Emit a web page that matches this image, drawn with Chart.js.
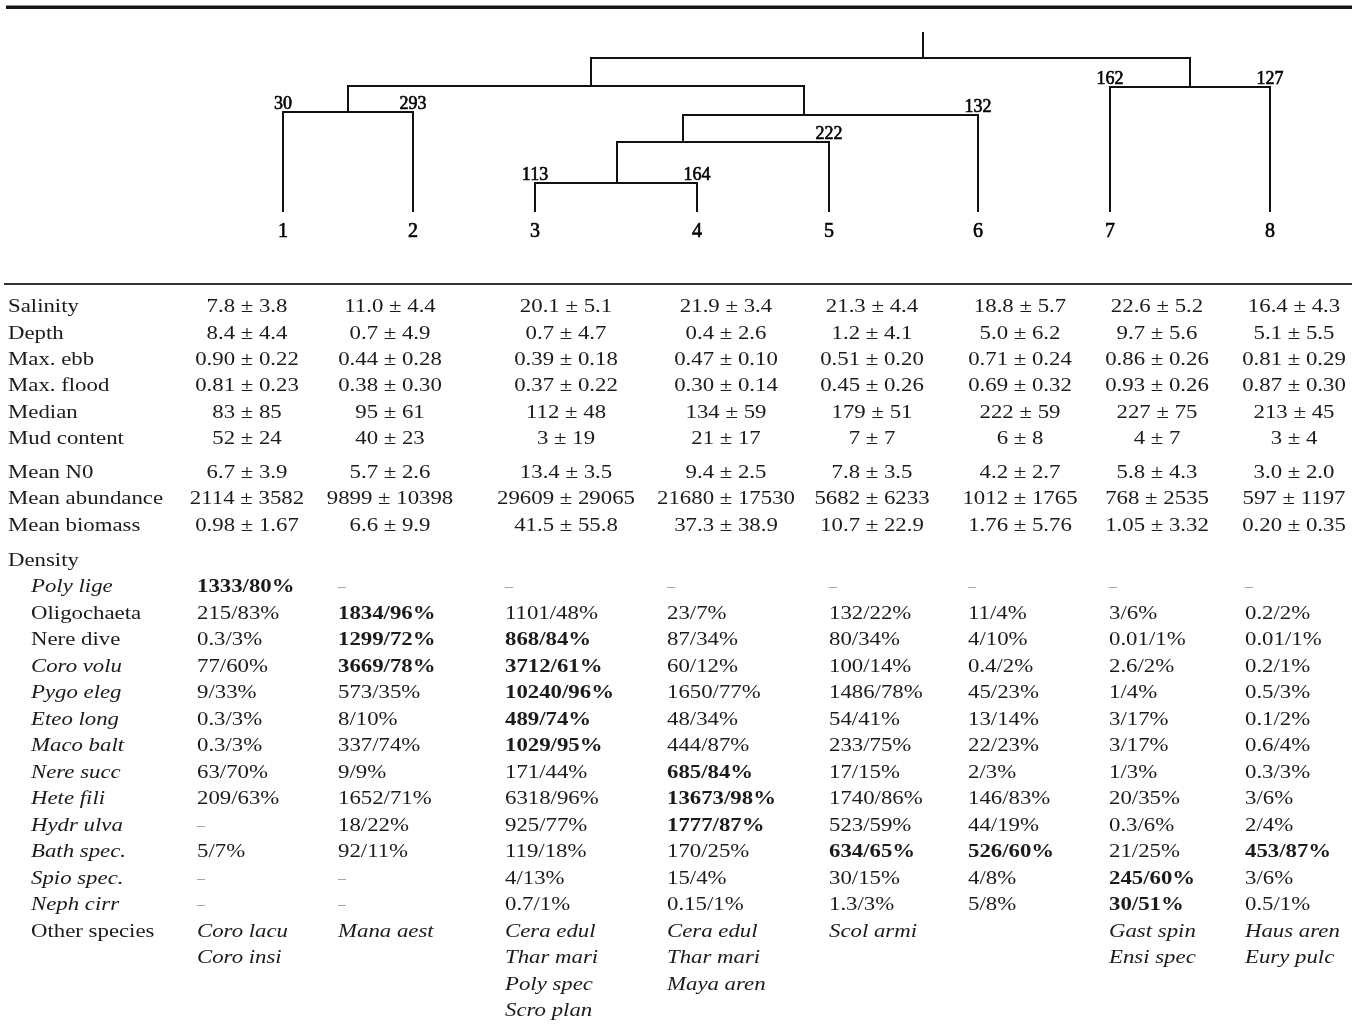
<!DOCTYPE html>
<html>
<head>
<meta charset="utf-8">
<script src="https://cdn.jsdelivr.net/npm/chart.js@4.4.1/dist/chart.umd.min.js"></script>
<style>
  html, body { margin: 0; padding: 0; background: #ffffff; }
  #wrap { position: relative; width: 1358px; height: 1024px; }
</style>
</head>
<body>
<div id="wrap"><canvas id="c"></canvas></div>
<script>
// ---- Dendrogram data ----
const leafLabels  = ['1', '2', '3', '4', '5', '6', '7', '8'];
const clusterSize = [30, 293, 113, 164, 222, 132, 162, 127];
const leafPos     = [283, 413, 535, 697, 829, 978, 1110, 1270];
// merges: indices < 8 are leaves, 8 + k is merge k
const mergeChildren = [[2, 3], [8, 4], [9, 5], [0, 1], [11, 10], [6, 7], [12, 13]];
const mergeHeight   = [28, 69, 96, 99, 125, 124, 153];
const mergePos      = [617, 683, 804, 348, 591, 1190, 923];
const rootTop       = 178;

// ---- Environmental / community statistics per cluster ----
const statNames = ['Salinity', 'Depth', 'Max. ebb', 'Max. flood', 'Median', 'Mud content',
                   'Mean N0', 'Mean abundance', 'Mean biomass'];
const salinity  = ['7.8 ± 3.8', '11.0 ± 4.4', '20.1 ± 5.1', '21.9 ± 3.4', '21.3 ± 4.4', '18.8 ± 5.7', '22.6 ± 5.2', '16.4 ± 4.3'];
const depth     = ['8.4 ± 4.4', '0.7 ± 4.9', '0.7 ± 4.7', '0.4 ± 2.6', '1.2 ± 4.1', '5.0 ± 6.2', '9.7 ± 5.6', '5.1 ± 5.5'];
const maxEbb    = ['0.90 ± 0.22', '0.44 ± 0.28', '0.39 ± 0.18', '0.47 ± 0.10', '0.51 ± 0.20', '0.71 ± 0.24', '0.86 ± 0.26', '0.81 ± 0.29'];
const maxFlood  = ['0.81 ± 0.23', '0.38 ± 0.30', '0.37 ± 0.22', '0.30 ± 0.14', '0.45 ± 0.26', '0.69 ± 0.32', '0.93 ± 0.26', '0.87 ± 0.30'];
const median    = ['83 ± 85', '95 ± 61', '112 ± 48', '134 ± 59', '179 ± 51', '222 ± 59', '227 ± 75', '213 ± 45'];
const mud       = ['52 ± 24', '40 ± 23', '3 ± 19', '21 ± 17', '7 ± 7', '6 ± 8', '4 ± 7', '3 ± 4'];
const meanN0    = ['6.7 ± 3.9', '5.7 ± 2.6', '13.4 ± 3.5', '9.4 ± 2.5', '7.8 ± 3.5', '4.2 ± 2.7', '5.8 ± 4.3', '3.0 ± 2.0'];
const meanAbund = ['2114 ± 3582', '9899 ± 10398', '29609 ± 29065', '21680 ± 17530', '5682 ± 6233', '1012 ± 1765', '768 ± 2535', '597 ± 1197'];
const meanBio   = ['0.98 ± 1.67', '6.6 ± 9.9', '41.5 ± 55.8', '37.3 ± 38.9', '10.7 ± 22.9', '1.76 ± 5.76', '1.05 ± 3.32', '0.20 ± 0.35'];
const statRows  = [salinity, depth, maxEbb, maxFlood, median, mud, meanN0, meanAbund, meanBio];

// ---- Species density (ind/m2 / frequency) ----
const speciesNames  = ['Poly lige', 'Oligochaeta', 'Nere dive', 'Coro volu', 'Pygo eleg', 'Eteo long', 'Maco balt',
                       'Nere succ', 'Hete fili', 'Hydr ulva', 'Bath spec.', 'Spio spec.', 'Neph cirr'];
const speciesItalic = [true, false, false, true, true, true, true, true, true, true, true, true, true];
const densityValues = [
  ['1333/80%', '–', '–', '–', '–', '–', '–', '–'],
  ['215/83%', '1834/96%', '1101/48%', '23/7%', '132/22%', '11/4%', '3/6%', '0.2/2%'],
  ['0.3/3%', '1299/72%', '868/84%', '87/34%', '80/34%', '4/10%', '0.01/1%', '0.01/1%'],
  ['77/60%', '3669/78%', '3712/61%', '60/12%', '100/14%', '0.4/2%', '2.6/2%', '0.2/1%'],
  ['9/33%', '573/35%', '10240/96%', '1650/77%', '1486/78%', '45/23%', '1/4%', '0.5/3%'],
  ['0.3/3%', '8/10%', '489/74%', '48/34%', '54/41%', '13/14%', '3/17%', '0.1/2%'],
  ['0.3/3%', '337/74%', '1029/95%', '444/87%', '233/75%', '22/23%', '3/17%', '0.6/4%'],
  ['63/70%', '9/9%', '171/44%', '685/84%', '17/15%', '2/3%', '1/3%', '0.3/3%'],
  ['209/63%', '1652/71%', '6318/96%', '13673/98%', '1740/86%', '146/83%', '20/35%', '3/6%'],
  ['–', '18/22%', '925/77%', '1777/87%', '523/59%', '44/19%', '0.3/6%', '2/4%'],
  ['5/7%', '92/11%', '119/18%', '170/25%', '634/65%', '526/60%', '21/25%', '453/87%'],
  ['–', '–', '4/13%', '15/4%', '30/15%', '4/8%', '245/60%', '3/6%'],
  ['–', '–', '0.7/1%', '0.15/1%', '1.3/3%', '5/8%', '30/51%', '0.5/1%']
];
// [species row, cluster] of the characteristic (dominant) cells
const dominantCells = [[0, 0], [1, 1], [2, 1], [2, 2], [3, 1], [3, 2], [4, 2], [5, 2], [6, 2],
                       [7, 3], [8, 3], [9, 3], [10, 4], [10, 5], [10, 7], [11, 6], [12, 6]];
const otherSpecies = [
  ['Coro lacu', 'Coro insi'], ['Mana aest'], ['Cera edul', 'Thar mari', 'Poly spec', 'Scro plan'],
  ['Cera edul', 'Thar mari', 'Maya aren'], ['Scol armi'], [], ['Gast spin', 'Ensi spec'], ['Haus aren', 'Eury pulc']
];

// ---- Layout ----
const FONT = '"Liberation Serif", "Times New Roman", serif';
const INK = '#1b1b1b';
const SX = 1.2;          // horizontal stretch of table type
const TS = 19;           // table font size
const colCenter = [247, 390, 566, 726, 872, 1020, 1157, 1294];
const colLeft   = [197, 338, 505, 667, 829, 968, 1109, 1245];
const statRowY  = [306.5, 333, 359.3, 385.7, 412, 438.5, 472, 498.5, 525];
const densityY0 = 560, rowStep = 26.5;

function drawText(ctx, s, x, y, font, align, color, sx, weight) {
  ctx.save();
  ctx.font = font;
  ctx.fillStyle = color || INK;
  ctx.textBaseline = 'alphabetic';
  ctx.textAlign = 'left';
  const k = sx || 1;
  const w = ctx.measureText(s).width * k;
  const x0 = align === 'center' ? x - w / 2 : (align === 'right' ? x - w : x);
  ctx.translate(x0, y);
  ctx.scale(k, 1);
  ctx.fillText(s, 0, 0);
  if (weight) {
    ctx.strokeStyle = color || INK;
    ctx.lineWidth = weight;
    ctx.strokeText(s, 0, 0);
  }
  ctx.restore();
}

const nodeX = i => i < 8 ? leafPos[i] : mergePos[i - 8];
const nodeH = i => i < 8 ? 0 : mergeHeight[i - 8];

const datasets = mergeChildren.map(([a, b], k) => ({
  data: [
    { x: nodeX(a), y: nodeH(a) }, { x: nodeX(a), y: mergeHeight[k] },
    { x: nodeX(b), y: mergeHeight[k] }, { x: nodeX(b), y: nodeH(b) }
  ]
}));
datasets.push({ data: [{ x: mergePos[6], y: mergeHeight[6] }, { x: mergePos[6], y: rootTop }] });
datasets.forEach(d => Object.assign(d, {
  showLine: true, pointRadius: 0, borderColor: '#111', borderWidth: 2,
  tension: 0, fill: false, clip: false, borderCapStyle: 'square', borderJoinStyle: 'miter'
}));

const tablePlugin = {
  id: 'clusterTable',
  afterDraw(chart) {
    const ctx = chart.ctx;
    const xs = chart.scales.x, ys = chart.scales.y;

    // rules
    ctx.save();
    ctx.fillStyle = '#161616';
    ctx.fillRect(6, 5.5, 1346, 3.5);
    ctx.fillStyle = '#333';
    ctx.fillRect(4, 283, 1348, 2);
    ctx.restore();

    // cluster sizes above the leaf branches, and leaf numbers below
    leafLabels.forEach((lab, i) => {
      const parent = mergeChildren.findIndex(c => c.includes(i));
      const px = xs.getPixelForValue(leafPos[i]);
      const py = ys.getPixelForValue(mergeHeight[parent]);
      drawText(ctx, String(clusterSize[i]), px, py - 3, `18px ${FONT}`, 'center', '#000', 1, 0.6);
      drawText(ctx, lab, px, ys.getPixelForValue(0) + 26, `20px ${FONT}`, 'center', '#000', 1, 0.6);
    });

    const reg = `${TS}px ${FONT}`, ita = `italic ${TS}px ${FONT}`, bld = `bold ${TS}px ${FONT}`;

    // statistics block
    statNames.forEach((name, r) => {
      const y = statRowY[r] + 5.5;
      drawText(ctx, name, 8, y, reg, 'left', INK, SX);
      statRows[r].forEach((v, c) => drawText(ctx, v, colCenter[c], y, reg, 'center', INK, SX));
    });

    // density block
    drawText(ctx, 'Density', 8, densityY0 + 5.5, reg, 'left', INK, SX);
    speciesNames.forEach((name, r) => {
      const y = densityY0 + rowStep * (r + 1) + 5.5;
      drawText(ctx, name, 31, y, speciesItalic[r] ? ita : reg, 'left', INK, SX);
      densityValues[r].forEach((v, c) => {
        if (v === '–') {
          drawText(ctx, v, colLeft[c], y - 1, `16px ${FONT}`, 'left', '#9a9a9a', 1);
          return;
        }
        const bold = dominantCells.some(([rr, cc]) => rr === r && cc === c);
        drawText(ctx, v, colLeft[c], y, bold ? bld : reg, 'left', INK, SX);
      });
    });

    const yo = densityY0 + rowStep * (speciesNames.length + 1);
    drawText(ctx, 'Other species', 31, yo + 5.5, reg, 'left', INK, SX);
    otherSpecies.forEach((list, c) => list.forEach((s, j) =>
      drawText(ctx, s, colLeft[c], yo + rowStep * j + 5.5, ita, 'left', INK, SX)));
  }
};

new Chart(document.getElementById('c'), {
  type: 'scatter',
  data: { datasets },
  options: {
    responsive: true,
    maintainAspectRatio: false,
    devicePixelRatio: 1,
    animation: false,
    events: [],
    layout: { padding: { top: 33, bottom: 1024 - 211, left: 0, right: 0 } },
    plugins: { legend: { display: false }, tooltip: { enabled: false } },
    scales: {
      x: { type: 'linear', min: 0, max: 1358, display: false },
      y: { type: 'linear', min: 0, max: rootTop, display: false }
    }
  },
  plugins: [tablePlugin]
});
</script>
</body>
</html>
